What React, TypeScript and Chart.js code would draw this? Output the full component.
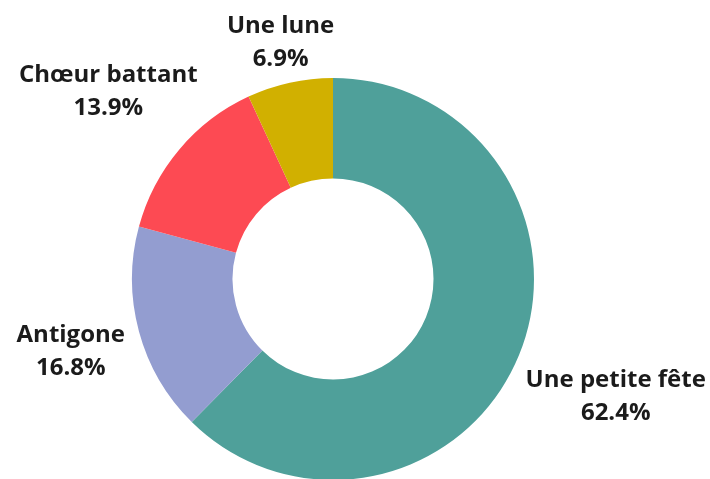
import React, { useEffect, useRef } from "react";
import { Chart, registerables } from "chart.js";

Chart.register(...registerables);

const categories = ["Une petite fête", "Antigone", "Chœur battant", "Une lune"];
const values = [62.4, 16.8, 13.9, 6.9];
const colors = ["#4fa09a", "#939dd0", "#fd4a53", "#d1b000"];

const FONT_SIZE = 24;
const FONT = `bold ${FONT_SIZE}px 'Open Sans', sans-serif`;
const LINE_H = 33;
const CAP_H = Math.round(FONT_SIZE * 0.72);
const PAD = 12;

const outsideLabels = {
  id: "outsideLabels",
  afterDraw(chart: any) {
    const ctx = chart.ctx;
    const meta = chart.getDatasetMeta(0);
    const total = values.reduce((a, b) => a + b, 0);
    ctx.save();
    ctx.font = FONT;
    ctx.fillStyle = "#1b1b1b";
    ctx.textAlign = "center";
    ctx.textBaseline = "alphabetic";
    meta.data.forEach((arc: any, i: number) => {
      const { x, y, startAngle, endAngle, outerRadius } = arc.getProps(
        ["x", "y", "startAngle", "endAngle", "outerRadius"],
        true
      );
      const mid = (startAngle + endAngle) / 2;
      const ux = Math.cos(mid);
      const uy = Math.sin(mid);
      const l1 = categories[i];
      const l2 = ((values[i] / total) * 100).toFixed(1) + "%";
      const w = Math.max(ctx.measureText(l1).width, ctx.measureText(l2).width);
      const h = CAP_H + LINE_H;
      const target = outerRadius + PAD;
      const nearest = (t: number) => {
        const cx = ux * t;
        const cy = uy * t;
        const nx = Math.max(cx - w / 2, Math.min(0, cx + w / 2));
        const ny = Math.max(cy - h / 2, Math.min(0, cy + h / 2));
        return Math.hypot(nx, ny);
      };
      let lo = 0;
      let hi = outerRadius + 400;
      for (let k = 0; k < 60; k++) {
        const m = (lo + hi) / 2;
        if (nearest(m) < target) lo = m;
        else hi = m;
      }
      const cx = x + ux * lo;
      const cy = y + uy * lo;
      const top = cy - h / 2;
      ctx.fillText(l1, cx, top + CAP_H);
      ctx.fillText(l2, cx, top + CAP_H + LINE_H);
    });
    ctx.restore();
  },
};

export default function App() {
  const ref = useRef<HTMLCanvasElement>(null);
  useEffect(() => {
    document.body.style.margin = "0";
    const chart = new Chart(ref.current!, {
      type: "doughnut",
      data: {
        labels: categories,
        datasets: [
          {
            data: values,
            backgroundColor: colors,
            borderWidth: 0,
          },
        ],
      },
      options: {
        animation: false,
        responsive: true,
        maintainAspectRatio: false,
        cutout: "50%",
        layout: { padding: { top: 78, bottom: 20, left: 132, right: 176 } },
        plugins: {
          legend: { display: false },
          tooltip: { enabled: false },
        },
      },
      plugins: [outsideLabels],
    });
    return () => chart.destroy();
  }, []);
  return (
    <div style={{ width: 710, height: 479, overflow: "hidden", position: "relative" }}>
      <div style={{ width: 710, height: 500, position: "absolute", left: 0, top: 0 }}>
        <canvas ref={ref} />
      </div>
    </div>
  );
}
